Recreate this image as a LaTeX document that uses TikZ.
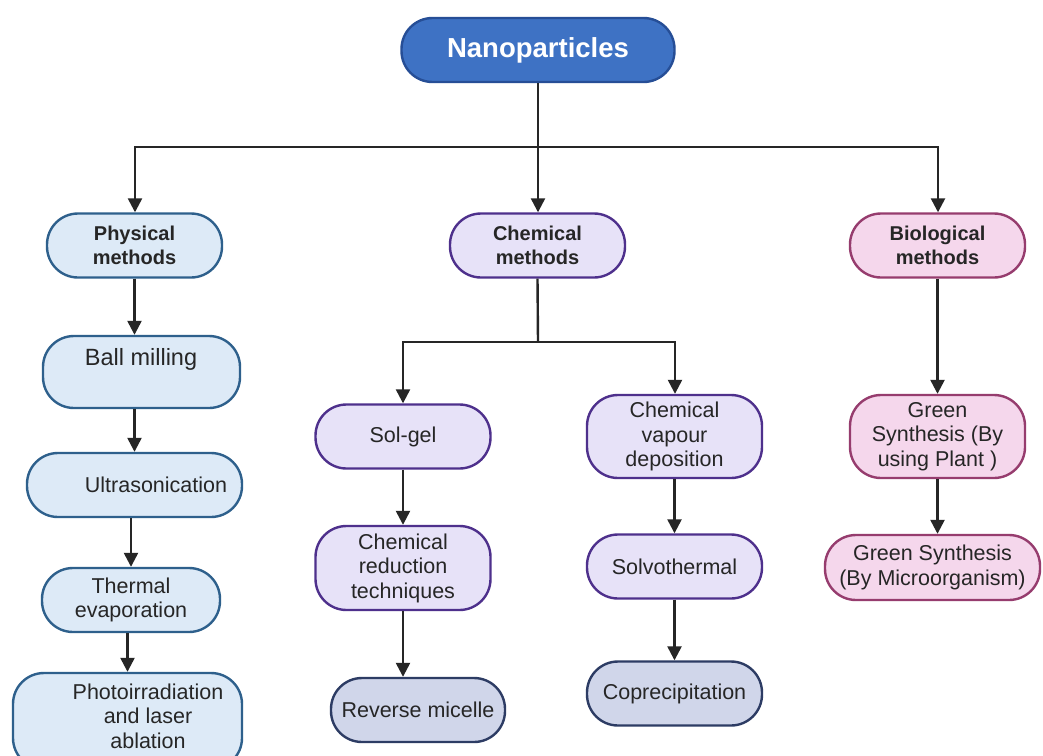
\documentclass[tikz,border=0pt]{standalone}
\usepackage{fontspec}
\setmainfont{Liberation Sans}
\usetikzlibrary{arrows.meta}
\definecolor{titlefill}{RGB}{62,114,196}
\definecolor{titledraw}{RGB}{38,78,150}
\definecolor{physfill}{RGB}{221,234,247}
\definecolor{physdraw}{RGB}{46,96,140}
\definecolor{chemfill}{RGB}{231,226,248}
\definecolor{chemdraw}{RGB}{78,48,140}
\definecolor{biofill}{RGB}{245,215,236}
\definecolor{biodraw}{RGB}{150,60,110}
\definecolor{endfill}{RGB}{208,214,234}
\definecolor{enddraw}{RGB}{45,60,100}
\definecolor{txt}{RGB}{38,38,38}
\tikzset{
  x=1pt,y=-1pt,
  box/.style={rounded corners=31pt,line width=2.4pt,minimum width=175pt,minimum height=64pt,
    align=center,inner sep=0pt,text=txt,font=\fontsize{21.5}{24.5}\selectfont},
  titlebox/.style={box,fill=titlefill,draw=titledraw,text=white,minimum width=273pt,
    font=\fontsize{27.5}{30}\selectfont\bfseries},
  physbox/.style={box,fill=physfill,draw=physdraw},
  chembox/.style={box,fill=chemfill,draw=chemdraw},
  biobox/.style={box,fill=biofill,draw=biodraw},
  endbox/.style={box,fill=endfill,draw=enddraw},
  headfont/.style={font=\fontsize{20}{24}\selectfont\bfseries},
  lbl/.style={inner sep=0pt,align=center,text=txt,font=\fontsize{21.5}{24.5}\selectfont},
  line/.style={line width=2.4pt,draw=black!85},
  arr/.style={line,-{Triangle[length=14pt,width=14pt]}},
}
\begin{document}
\begin{tikzpicture}
\clip (0,0) rectangle (1043,755);
\fill[white] (0,0) rectangle (1043,755);
% top
\node[titlebox] (nano) at (538,50) {Nanoparticles};
% level 1
\node[physbox,headfont] (phys) at (134.5,245.5) {Physical\\methods};
\node[chembox,headfont] (chem) at (537.5,245.5) {Chemical\\methods};
\node[biobox,headfont] (bio) at (937.5,245.5) {Biological\\methods};
% physical column
\node[physbox,minimum width=197pt,minimum height=72pt] (ball) at (141.5,372) {};
\node[lbl,font=\fontsize{23.5}{26}\selectfont,anchor=base] (balltxt) at (141,365) {Ball milling};
\node[physbox,minimum width=215pt] (ultra) at (134.5,485) {};
\node[lbl,anchor=base] (ultratxt) at (156,492) {Ultrasonication};
\node[physbox,minimum width=178pt] (therm) at (131,600) {Thermal\\evaporation};
\node[physbox,minimum width=229pt,minimum height=96pt] (photo) at (127.5,721) {};
\node[lbl] (phototxt) at (148,716) {Photoirradiation\\and laser\\ablation};
% chemical columns
\node[chembox] (solgel) at (403,436.5) {Sol-gel};
\node[chembox,minimum height=84pt] (chemred) at (403,568) {Chemical\\reduction\\techniques};
\node[endbox,minimum width=174pt] (rev) at (418,710) {Reverse micelle};
\node[chembox,minimum height=83pt] (cvd) at (674.5,436.5) {Chemical\\vapour\\deposition};
\node[chembox] (solvo) at (674.5,566.5) {Solvothermal};
\node[endbox] (copre) at (674.5,693.5) {Coprecipitation};
% biological column
\node[biobox,minimum height=83pt] (green1) at (937.5,436.5) {Green\\Synthesis (By\\using Plant )};
\node[biobox,minimum width=215pt,minimum height=65pt] (green2) at (932.5,567.5) {Green Synthesis\\(By Microorganism)};
% connectors from top
\coordinate (hubc) at (538,147);
\coordinate (hubl) at (135,147);
\coordinate (hubr) at (938,147);
\draw[line] (nano.south) -- (hubc);
\draw[line,line cap=rect] (hubl) -- (hubr);
\draw[arr] (hubl) -- (hubl |- phys.north);
\draw[arr] (hubc) -- (hubc |- chem.north);
\draw[arr] (hubr) -- (hubr |- bio.north);
% physical
\draw[arr] (phys.south) -- (phys.south |- ball.north);
\draw[arr] (ball.south -| ultra.north) -- (ultra.north);
\draw[arr] (ultra.south -| therm.north) -- (therm.north);
\draw[arr] (therm.south -| photo.north) -- (photo.north);
% chemical
\coordinate (chub) at (538,342);
\coordinate (chubl) at (403,342);
\coordinate (chubr) at (675,342);
\draw[line] (chem.south) -- (chub);
\draw[line,line cap=rect] (chubl) -- (chubr);
\draw[arr] (chubl) -- (chubl |- solgel.north);
\draw[arr] (chubr) -- (chubr |- cvd.north);
\draw[arr] (solgel.south) -- (chemred.north);
\draw[arr] (chemred.south) -- (chemred.south |- rev.north);
\draw[arr] (cvd.south) -- (solvo.north);
\draw[arr] (solvo.south) -- (copre.north);
% biological
\draw[arr] (bio.south) -- (green1.north);
\draw[arr] (green1.south) -- (green1.south |- green2.north);
\end{tikzpicture}
\end{document}
